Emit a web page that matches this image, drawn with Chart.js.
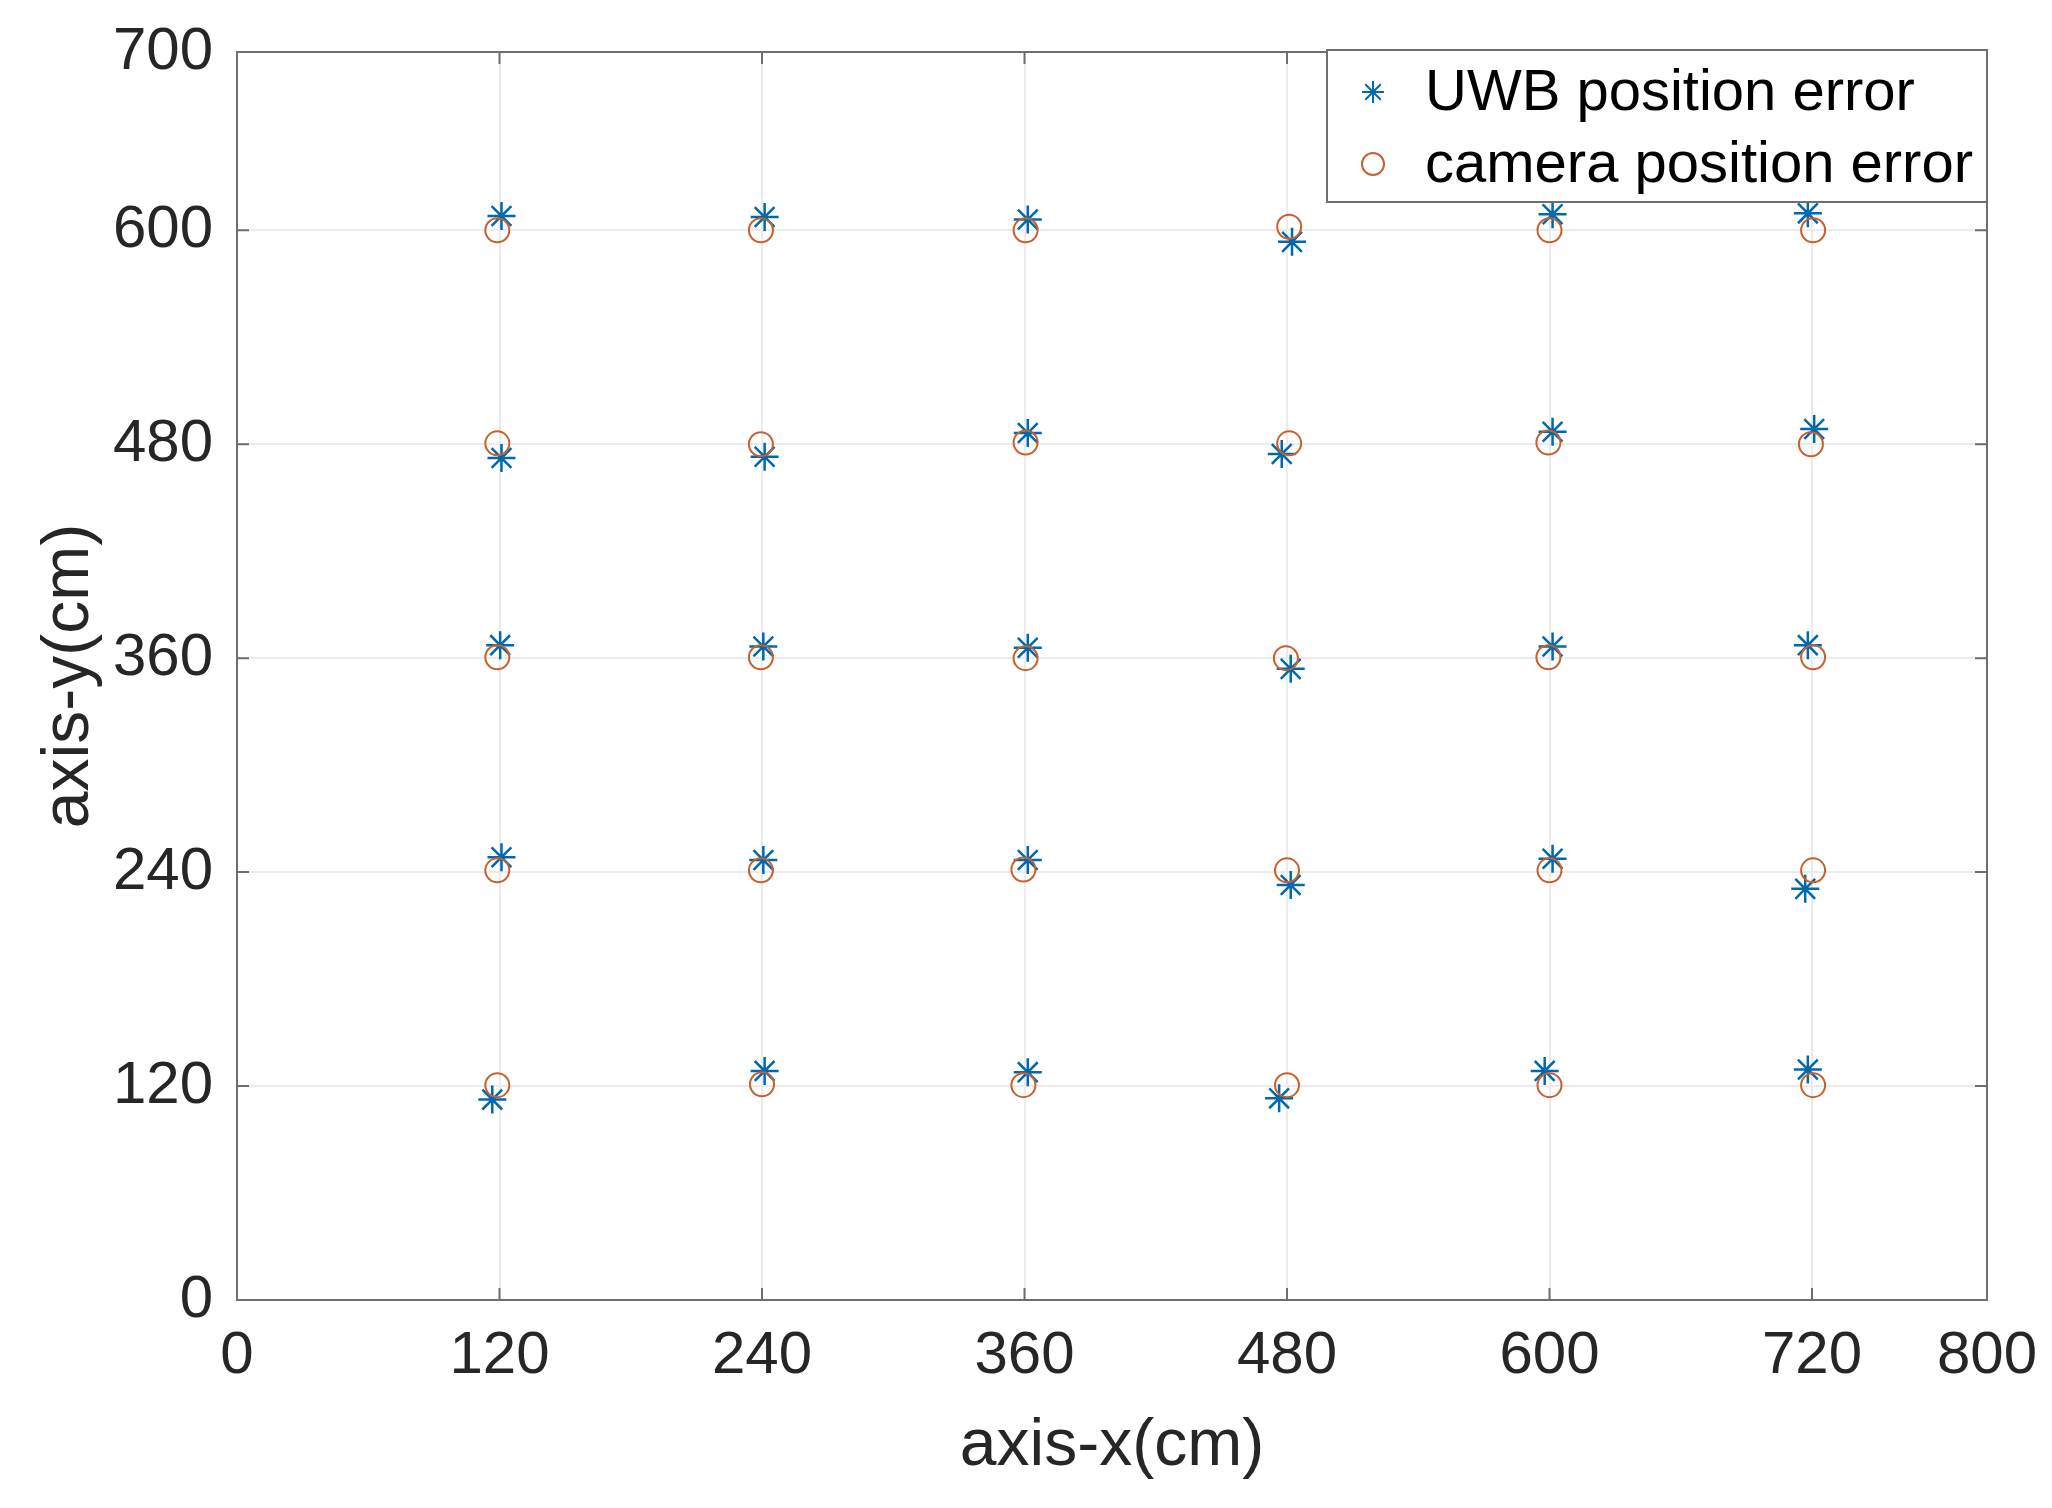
<!DOCTYPE html>
<html>
<head>
<meta charset="utf-8">
<script src="https://cdn.jsdelivr.net/npm/chart.js@4.4.1/dist/chart.umd.min.js"></script>
<style>
html, body { margin: 0; padding: 0; background: #fff; }
#wrap { width: 2052px; height: 1508px; }
</style>
</head>
<body>
<div id="wrap"><canvas id="chart" width="2052" height="1508"></canvas></div>
<script>
// tick labels
const xTicks = [0, 120, 240, 360, 480, 600, 720, 800]
const yTicks = [0, 120, 240, 360, 480, 600, 700]

// UWB estimates, row by row (600, 480, 360, 240, 120)
const uwbX = [
    120.9, 241.2, 361.5, 482.3, 601.4, 718.1,
    120.9, 241.2, 361.5, 477.6, 601.4, 721.0,
    120.3, 240.6, 361.5, 481.7, 601.4, 718.1,
    120.9, 240.6, 361.5, 481.7, 601.4, 716.9,
    116.7, 241.2, 361.5, 476.4, 597.8, 718.1
]
const uwbY = [
    608.0, 607.5, 606.0, 593.5, 609.0, 609.5,
    472.3, 473.0, 486.3, 474.5, 487.0, 488.5,
    367.3, 366.5, 365.8, 354.0, 366.5, 367.3,
    248.3, 246.8, 246.8, 232.8, 247.5, 230.6,
    112.4, 128.5, 127.8, 113.1, 128.5, 129.3
]

// camera estimates
const camX = [
    119.0, 239.5, 360.5, 481.0, 600.0, 720.5,
    119.0, 239.5, 360.5, 481.0, 599.5, 719.5,
    119.0, 239.5, 360.5, 479.5, 599.5, 720.5,
    119.0, 239.5, 359.5, 480.0, 600.0, 720.5,
    119.0, 240.0, 359.5, 480.0, 600.0, 720.5
]
const camY = [
    600.0, 600.0, 600.0, 602.0, 600.0, 600.0,
    480.5, 480.0, 481.0, 480.5, 481.0, 480.0,
    360.5, 360.5, 360.0, 360.0, 360.5, 360.5,
    241.0, 241.0, 241.5, 241.0, 241.0, 241.0,
    120.5, 121.0, 120.5, 120.5, 120.5, 120.5
]

const seriesNames = ['UWB position error', 'camera position error']

const fontName = '"Liberation Sans", Arial, Helvetica, sans-serif'
const textColor = '#262626'
const axisColor = '#6e6e6e'
const gridColor = '#ebebeb'

function toPoints(xs, ys) {
    return xs.map(function (x, i) { return { x: x, y: ys[i] } })
}

// MATLAB style box with inward ticks on all four sides
const framePlugin = {
    id: 'frame',
    afterDatasetsDraw(chart) {
        const { ctx, chartArea: a, scales } = chart
        const len = 12
        ctx.save()
        ctx.strokeStyle = axisColor
        ctx.lineWidth = 2
        ctx.strokeRect(a.left, a.top, a.right - a.left, a.bottom - a.top)
        ctx.beginPath()
        xTicks.forEach(function (v) {
            const px = scales.x.getPixelForValue(v)
            ctx.moveTo(px, a.bottom); ctx.lineTo(px, a.bottom - len)
            ctx.moveTo(px, a.top); ctx.lineTo(px, a.top + len)
        })
        yTicks.forEach(function (v) {
            const py = scales.y.getPixelForValue(v)
            ctx.moveTo(a.left, py); ctx.lineTo(a.left + len, py)
            ctx.moveTo(a.right, py); ctx.lineTo(a.right - len, py)
        })
        ctx.stroke()
        ctx.restore()
    }
}

// boxed legend in the top right corner of the plot
const legendBox = {
    id: 'legendBox',
    afterDraw(chart) {
        const { ctx, chartArea: a } = chart
        const sets = chart.data.datasets
        ctx.save()
        ctx.font = '58px ' + fontName
        const textW = Math.max.apply(null, sets.map(function (d) { return ctx.measureText(d.label).width }))
        const w = textW + 112
        const h = 152
        const left = a.right - w
        const top = a.top - 2
        ctx.fillStyle = '#fff'
        ctx.fillRect(left, top, w, h)
        ctx.strokeStyle = axisColor
        ctx.lineWidth = 2
        ctx.strokeRect(left, top, w, h)
        sets.forEach(function (d, i) {
            const cy = top + 42 + i * 72
            ctx.strokeStyle = d.borderColor
            ctx.fillStyle = 'rgba(0,0,0,0)'
            ctx.lineWidth = 2
            Chart.helpers.drawPoint(ctx, { pointStyle: d.pointStyle, radius: 11, borderWidth: 2, rotation: 0 }, left + 46, cy)
            ctx.fillStyle = '#000'
            ctx.textAlign = 'left'
            ctx.textBaseline = 'middle'
            ctx.fillText(d.label, left + 98, cy + 2)
        })
        ctx.restore()
    }
}

let chartCanvas = document.getElementById('chart').getContext('2d')

var scatterChart = new Chart(chartCanvas, {
    type: 'scatter',
    data: {
        datasets: [
            {
                label: seriesNames[0],
                data: toPoints(uwbX, uwbY),
                pointStyle: 'star',
                pointRadius: 14,
                pointBorderWidth: 2.5,
                borderColor: '#0068AD',
                backgroundColor: 'rgba(0,0,0,0)',
                order: 1
            },
            {
                label: seriesNames[1],
                data: toPoints(camX, camY),
                pointStyle: 'circle',
                pointRadius: 12,
                pointBorderWidth: 2,
                borderColor: '#C8602E',
                backgroundColor: 'rgba(0,0,0,0)',
                order: 0
            }
        ]
    },
    options: {
        responsive: false,
        animation: false,
        devicePixelRatio: 1,
        layout: { padding: { top: 52, right: 65, left: 0, bottom: 0 } },
        plugins: {
            legend: { display: false },
            tooltip: { enabled: false }
        },
        scales: {
            x: {
                type: 'linear',
                position: 'bottom',
                min: 0,
                max: 800,
                afterBuildTicks: function (scale) {
                    scale.ticks = xTicks.map(function (v) { return { value: v } })
                },
                afterFit: function (scale) {
                    scale.height = 208
                    scale.paddingLeft = 0
                    scale.paddingRight = 0
                },
                ticks: {
                    color: textColor,
                    padding: 20,
                    maxRotation: 0,
                    autoSkip: false,
                    font: { family: fontName, size: 60 }
                },
                grid: { color: gridColor, lineWidth: 2, drawTicks: false },
                border: { display: false },
                title: {
                    display: true,
                    text: 'axis-x(cm)',
                    color: textColor,
                    font: { family: fontName, size: 66 },
                    padding: { top: 0, bottom: 22 }
                }
            },
            y: {
                type: 'linear',
                min: 0,
                max: 700,
                afterBuildTicks: function (scale) {
                    scale.ticks = yTicks.map(function (v) { return { value: v } })
                },
                afterFit: function (scale) {
                    scale.width = 237
                    scale.paddingTop = 0
                    scale.paddingBottom = 0
                },
                ticks: {
                    color: textColor,
                    padding: 24,
                    autoSkip: false,
                    font: { family: fontName, size: 60 }
                },
                grid: { color: gridColor, lineWidth: 2, drawTicks: false },
                border: { display: false },
                title: {
                    display: true,
                    text: 'axis-y(cm)',
                    color: textColor,
                    font: { family: fontName, size: 66 },
                    padding: { top: 30, bottom: 0 }
                }
            }
        }
    },
    plugins: [framePlugin, legendBox]
})
</script>
</body>
</html>
